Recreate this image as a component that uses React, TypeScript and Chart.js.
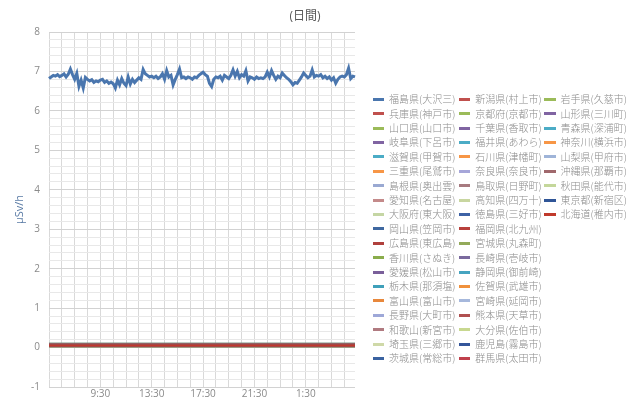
import React, { useEffect, useRef } from 'react';
import { Chart, registerables } from 'chart.js';

Chart.register(...registerables);

// Time categories: 10-minute readings starting at 5:30
const START_MINUTES = 5 * 60 + 30;
const STEP_MINUTES = 10;
const POINT_COUNT = 144;
const TIME_LABELS: string[] = [];
for (let i = 0; i < POINT_COUNT; i++) {
  const m = START_MINUTES + i * STEP_MINUTES;
  TIME_LABELS.push(`${Math.floor(m / 60) % 24}:${String(m % 60).padStart(2, '0')}`);
}

const CHART_TITLE = '(日間)';
const Y_TITLE = 'μSv/h';

// Series names (legend order, column by column)
const SERIES_NAMES = [
  '福島県(大沢三)', '兵庫県(神戸市)', '山口県(山口市)', '岐阜県(下呂市)', '滋賀県(甲賀市)',
  '三重県(尾鷲市)', '島根県(奥出雲)', '愛知県(名古屋)', '大阪府(東大阪)', '岡山県(笠岡市)',
  '広島県(東広島)', '香川県(さぬき)', '愛媛県(松山市)', '栃木県(那須塩)', '富山県(富山市)',
  '長野県(大町市)', '和歌山(新宮市)', '埼玉県(三郷市)', '茨城県(常総市)',
  '新潟県(村上市)', '京都府(京都市)', '千葉県(香取市)', '福井県(あわら)', '石川県(津幡町)',
  '奈良県(奈良市)', '鳥取県(日野町)', '高知県(四万十)', '徳島県(三好市)', '福岡県(北九州)',
  '宮城県(丸森町)', '長崎県(壱岐市)', '静岡県(御前崎)', '佐賀県(武雄市)', '宮崎県(延岡市)',
  '熊本県(天草市)', '大分県(佐伯市)', '鹿児島(霧島市)', '群馬県(太田市)',
  '岩手県(久慈市)', '山形県(三川町)', '青森県(深浦町)', '神奈川(横浜市)', '山梨県(甲府市)',
  '沖縄県(那覇市)', '秋田県(能代市)', '東京都(新宿区)', '北海道(稚内市)',
];

// 福島県(大沢三) readings (μSv/h)
const FUKUSHIMA_VALUES = [
  6.82, 6.86, 6.90, 6.88, 6.92, 6.87,
  6.90, 6.94, 6.86, 6.93,
  7.06,
  6.92, 6.80, 6.95,
  6.62, 6.78, 6.58,
  6.85, 6.80, 6.76, 6.79, 6.72, 6.76,
  6.74, 6.78, 6.80, 6.72, 6.76, 6.70, 6.73, 6.69,
  6.58,
  6.78, 6.66, 6.82, 6.70, 6.64, 6.86, 6.68, 6.80, 6.72,
  6.78, 6.84, 6.80, 7.05,
  6.94, 6.90, 6.86, 6.88, 6.84, 6.88, 6.82, 6.86,
  6.94, 6.80, 7.02,
  6.86, 6.90, 6.66, 6.80, 6.92,
  7.06,
  6.84, 6.86, 6.82, 6.86, 6.84, 6.80, 6.86, 6.84, 6.90,
  6.94, 6.98, 6.92, 6.88,
  6.70, 6.62, 6.80,
  6.86, 6.84, 6.88, 6.78, 6.90, 6.86, 6.82, 6.90,
  7.04, 6.88, 7.00, 6.84,
  6.92, 6.88, 7.02, 6.76,
  6.86, 6.84, 6.80, 6.86, 6.82, 6.84, 6.82, 6.86,
  6.98, 6.86, 7.02, 6.90, 6.80,
  6.88, 6.84, 6.96, 6.90,
  6.84, 6.80, 6.74, 6.66, 6.72,
  6.70, 6.78, 6.86, 6.96,
  6.90, 6.84, 6.88, 7.04,
  6.86, 6.90, 6.88, 6.92, 6.84, 6.88, 6.82,
  6.86, 6.78, 6.84, 6.70, 6.80, 6.86,
  6.88, 6.86, 6.92, 7.08, 6.82, 6.88, 6.86,
];

// Other stations: essentially flat readings near zero (μSv/h), same order as SERIES_NAMES[1..]
const OTHER_LEVELS = [
  0.05, 0.07, 0.06, 0.03, 0.03, 0.08, 0.05, 0.06, 0.07,
  0.05, 0.06, 0.06, 0.05, 0.03, 0.06, 0.07, 0.06, 0.09,
  0.06, 0.05, 0.07, 0.05, 0.02, 0.06, 0.07, 0.05, 0.06, 0.05,
  0.09, 0.05, 0.02, 0.06, 0.05, 0.06, 0.06, 0.07, 0.07,
  0.06, 0.05, 0.05, 0.03, 0.06, 0.06, 0.05, 0.05, 0.05,
];

const SERIES_COLORS = [
  '#4a76ae', '#c0504d', '#9bbb59', '#8064a2', '#4bacc6', '#f79646',
  '#9aa9d2', '#c48a8a', '#c5d6a4', '#3f68a0', '#b0403c', '#8aad4c',
  '#7a5f9a', '#3fa0ba', '#e8883c', '#9ea8d8', '#b07a80', '#cfd9a8', '#3a62a0',
  '#c0504d', '#9bbb59', '#8064a2', '#4bacc6', '#f79646', '#a6a6d9',
  '#a77a80', '#c8d6a0', '#3d62a5', '#b8403c', '#93aa5a', '#7a6a9e',
  '#46a4c0', '#f0913c', '#a6b8dc', '#b05050', '#c8d890', '#34569a', '#c0404c',
  '#9bbb59', '#8064a2', '#4bacc6', '#f79646', '#9fb4d8', '#a0686c',
  '#c4d79b', '#2f5597', '#c0392b',
];

const isInt = (v: number) => Math.abs(v - Math.round(v)) < 1e-6;

export default function App() {
  const canvasRef = useRef<HTMLCanvasElement | null>(null);

  useEffect(() => {
    if (!canvasRef.current) return;
    Chart.defaults.font.family = "'Open Sans', 'Noto Sans CJK JP', sans-serif";
    const n = SERIES_NAMES.length;
    const datasets = SERIES_NAMES.map((name, i) => ({
      label: name,
      data: i === 0 ? FUKUSHIMA_VALUES : TIME_LABELS.map(() => OTHER_LEVELS[i - 1]),
      borderColor: SERIES_COLORS[i],
      backgroundColor: SERIES_COLORS[i],
      borderWidth: i === 0 ? 3 : 2.5,
      pointRadius: 0,
      tension: 0,
      fill: false,
      order: n - i,
    }));

    const chart = new Chart(canvasRef.current, {
      type: 'line',
      data: { labels: TIME_LABELS, datasets },
      options: {
        animation: false,
        responsive: false,
        layout: { padding: { left: 0, right: 30, top: 0, bottom: 0 } },
        plugins: {
          legend: { display: false },
          tooltip: { enabled: false },
          title: {
            display: true,
            text: CHART_TITLE,
            color: '#595959',
            font: { size: 12, weight: 'normal' },
            padding: { top: 9, bottom: 8.6 },
          },
        },
        scales: {
          x: {
            type: 'category',
            afterFit: (s: any) => { s.height = 11; },
            border: { display: false },
            grid: {
              drawTicks: false,
              color: (ctx: any) => (ctx.index % 6 === 0 ? '#d9d9d9' : 'rgba(0,0,0,0)'),
            },
            ticks: {
              autoSkip: false,
              maxRotation: 0,
              minRotation: 0,
              padding: 1,
              color: '#8a8a8a',
              font: { size: 10 },
              callback: (_v: any, i: number) => (i % 24 === 0 && i > 0 ? TIME_LABELS[i] : ''),
            },
          },
          y: {
            type: 'linear',
            min: -1,
            max: 8,
            afterFit: (s: any) => { s.width = 49; },
            border: { display: false },
            grid: {
              drawTicks: false,
              color: (ctx: any) => (ctx.tick && isInt(ctx.tick.value) ? '#d2d2d2' : '#e8e8e8'),
            },
            ticks: {
              stepSize: 0.2,
              autoSkip: false,
              maxTicksLimit: 100,
              padding: 9,
              color: '#8a8a8a',
              font: { size: 10 },
              callback: (v: any) => (isInt(Number(v)) ? String(Math.round(Number(v))) : ''),
            },
            title: {
              display: true,
              text: Y_TITLE,
              color: '#5b7ca6',
              font: { size: 11 },
              padding: { top: 13, bottom: 0 },
            },
          },
          pad: {
            type: 'linear',
            position: 'right',
            display: true,
            afterFit: (s: any) => { s.width = 255; },
            grid: { display: false },
            border: { display: false },
            ticks: { display: false },
          },
        },
      } as any,
    });
    return () => chart.destroy();
  }, []);

  return (
    <div style={{ position: 'fixed', left: 0, top: 0, width: 640, height: 402, background: '#fff', overflow: 'hidden' }}>
      <canvas ref={canvasRef} width={640} height={402} style={{ display: 'block' }} />
      <div
        style={{
          position: 'absolute',
          left: 372.5,
          top: 92.1,
          display: 'grid',
          gridAutoFlow: 'column',
          gridTemplateRows: 'repeat(19, 14.41px)',
          gridTemplateColumns: '86.3px 85.3px 90px',
          fontFamily: "'Noto Sans CJK JP', sans-serif",
          fontWeight: 300,
          fontSize: 10,
          color: '#8c8c8c',
        }}
      >
        {SERIES_NAMES.map((name, i) => (
          <div key={name} style={{ display: 'flex', alignItems: 'center', whiteSpace: 'nowrap', height: 14.41 }}>
            <span style={{ display: 'inline-block', width: 11.5, height: 3, background: SERIES_COLORS[i], marginRight: 5, flex: '0 0 auto' }} />
            <span style={{ lineHeight: '14.41px' }}>{name}</span>
          </div>
        ))}
      </div>
    </div>
  );
}
